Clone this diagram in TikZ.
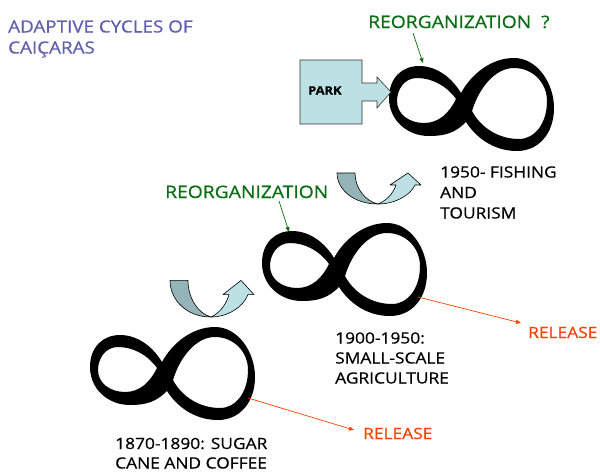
\documentclass[tikz,border=0pt]{standalone}
\usepackage{fontspec}
\setmainfont{Open Sans}[FakeStretch=1.12,FakeBold=0.6]
\usetikzlibrary{arrows.meta}
\definecolor{titleblue}{RGB}{96,96,176}
\definecolor{reorggreen}{RGB}{10,110,20}
\definecolor{releasered}{RGB}{255,64,0}
\definecolor{darkteal}{RGB}{148,180,184}
\definecolor{lightteal}{RGB}{189,224,228}
\tikzset{
  infty/.pic={
    \fill[black,even odd rule]
      (-6,-15) .. controls (5,-35) and (25,-50) .. (47,-50)
      .. controls (70,-50) and (87,-25) .. (87,0)
      .. controls (87,25) and (72,43) .. (50,43)
      .. controls (25,43) and (8,28) .. (-1,14)
      .. controls (-12,25) and (-22,28) .. (-38,28)
      .. controls (-60,28) and (-78,12) .. (-78,-10)
      .. controls (-78,-30) and (-65,-42) .. (-48,-42)
      .. controls (-30,-42) and (-15,-30) .. cycle
      (-11,-9) .. controls (-20,-22) and (-35,-30) .. (-50,-30)
      .. controls (-63,-30) and (-70,-18) .. (-70,-7)
      .. controls (-70,6) and (-58,15) .. (-43,15)
      .. controls (-28,15) and (-18,5) .. cycle
      (5,3) .. controls (12,-20) and (28,-40) .. (47,-40)
      .. controls (66,-40) and (80,-25) .. (80,-7)
      .. controls (80,15) and (68,31) .. (52,31)
      .. controls (32,31) and (14,20) .. cycle;
  },
  uarrow/.pic={
    \filldraw[fill=lightteal,draw=black,line width=0.6pt,line join=round]
      (0,0) .. controls (16,0) and (32,-8) .. (37,-19) -- (43,-19) -- (30,-31)
      -- (12,-19) -- (18,-19) .. controls (15,-10) and (8,-3) .. (0,0) -- cycle;
    \filldraw[fill=darkteal,draw=black,line width=0.6pt,line join=round]
      (-41,-31) -- (-23,-31) .. controls (-23,-16) and (-13,-3) .. (0,0)
      .. controls (-25,0) and (-41,-15) .. cycle;
  },
  title/.style={anchor=base west,inner sep=0pt,text=titleblue,font=\fontsize{16.8}{20}\selectfont},
  label/.style={anchor=base west,inner sep=0pt,text=black,font=\fontsize{15.5}{20}\selectfont},
  reorg/.style={anchor=base west,inner sep=0pt,text=reorggreen,font=\fontsize{17.2}{20}\selectfont},
  release/.style={anchor=base west,inner sep=0pt,text=releasered,font=\fontsize{15.5}{20}\selectfont},
  greenarrow/.style={draw=reorggreen,line width=0.7pt,-{Triangle[length=5pt,width=4pt]}},
  redarrow/.style={draw=releasered,line width=0.7pt,-{Triangle[length=5pt,width=4pt]}},
}
\begin{document}
\begin{tikzpicture}[x=1pt,y=-1pt]
\useasboundingbox (0,0) rectangle (600,472);
\fill[white] (0,0) rectangle (600,472);

% title
\node[title] (t1) at (8,32.5) {ADAPTIVE CYCLES OF};
\node[title] (t2) at (8,53.5) {CAIÇARAS};

% infinity glyphs
\pic at (467,108) {infty};
\pic at (340,273) {infty};
\pic at (168,377) {infty};

% U-turn arrows
\pic at (378,204) {uarrow};
\pic[yscale=1.18] at (211,317) {uarrow};

% park callout
\filldraw[fill=lightteal,draw=black!80,line width=0.6pt]
  (300,60) -- (362,60) -- (362,83) -- (377,83) -- (377,77) -- (391,92)
  -- (377,108) -- (377,101) -- (362,101) -- (362,124) -- (300,124) -- cycle;
\node[anchor=base west,inner sep=0pt,font=\bfseries\fontsize{11.5}{14}\selectfont] (park) at (308,94.5) {PARK};

% reorganization labels
\node[reorg] (r1) at (368,28) {REORGANIZATION \ ?};
\node[reorg] (r2) at (165,198) {REORGANIZATION};
\coordinate (g1s) at (413,33);
\coordinate (g1e) at (423,63);
\coordinate (g2s) at (279,201);
\coordinate (g2e) at (289,232);
\draw[greenarrow] (g1s) -- (g1e);
\draw[greenarrow] (g2s) -- (g2e);

% period labels
\node[label] (a1) at (440,177.5) {1950- FISHING};
\node[label] (a2) at (440,198) {AND};
\node[label] (a3) at (440,218.5) {TOURISM};
\node[label] (b1) at (335,343.5) {1900-1950:};
\node[label] (b2) at (335,363.5) {SMALL-SCALE};
\node[label] (b3) at (335,383.5) {AGRICULTURE};
\node[label] (c1) at (115,449) {1870-1890: SUGAR};
\node[label] (c2) at (115,468.5) {CANE AND COFFEE};

% release labels
\node[release] (rel1) at (528,338) {RELEASE};
\node[release] (rel2) at (363,439) {RELEASE};
\coordinate (r1s) at (418,297);
\coordinate (r1e) at (521,323);
\coordinate (r2s) at (248,398);
\coordinate (r2e) at (354,430);
\draw[redarrow] (r1s) -- (r1e);
\draw[redarrow] (r2s) -- (r2e);
\end{tikzpicture}
\end{document}
